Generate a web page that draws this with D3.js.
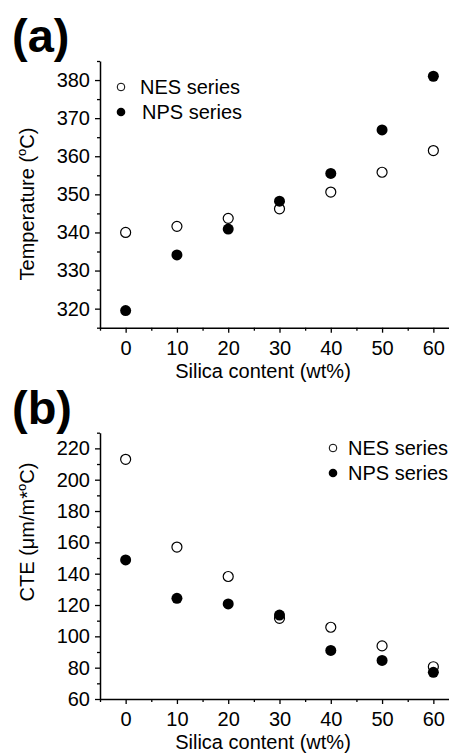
<!DOCTYPE html>
<html>
<head>
<meta charset="utf-8">
<script src="https://cdn.jsdelivr.net/npm/d3@7"></script>
<style>
  body { margin: 0; background: #fff; }
  svg { display: block; font-family: "Liberation Sans", Arial, sans-serif; }
  .domain { stroke: #000; stroke-width: 1.5; }
  .tick line { stroke: #000; stroke-width: 1.3; }
  .tick text { font-size: 20px; fill: #000; }
</style>
</head>
<body>
<svg id="chart" width="449" height="753"></svg>
<script>
  const silica = [0, 10, 20, 30, 40, 50, 60];

  // panel (a) decomposition temperature
  const tempNES = [340.0, 341.6, 343.7, 346.2, 350.6, 355.8, 361.5];
  const tempNPS = [319.5, 334.1, 340.9, 348.2, 355.5, 366.9, 381.0];

  // panel (b) CTE
  const cteNES = [213.0, 157.0, 138.2, 111.5, 105.8, 93.9, 80.6];
  const cteNPS = [148.8, 124.3, 120.7, 113.6, 91.0, 84.6, 77.0];

  const xTicks = [0, 10, 20, 30, 40, 50, 60];
  const xMinor = [-5, 5, 15, 25, 35, 45, 55];
  const tempTicks = [320, 330, 340, 350, 360, 370, 380];
  const tempMinor = [315, 325, 335, 345, 355, 365, 375, 385];
  const cteTicks = [60, 80, 100, 120, 140, 160, 180, 200, 220];
  const cteMinor = [70, 90, 110, 130, 150, 170, 190, 210, 230];

  const legendNames = ["NES series", "NPS series"];

  const svg = d3.select("#chart");
  const x = d3.scaleLinear().domain([-5, 65]).range([100, 459]);

  function panel(cfg) {
    const y = d3.scaleLinear().domain(cfg.yDomain).range([cfg.bottom, cfg.top]);
    const g = svg.append("g");

    // minor ticks first, then major axes on top
    g.append("g")
      .attr("transform", `translate(0,${cfg.bottom})`)
      .call(d3.axisBottom(x).tickValues(xMinor).tickSize(3).tickFormat(""))
      .call((s) => s.select(".domain").remove());
    g.append("g")
      .attr("transform", "translate(100,0)")
      .call(d3.axisLeft(y).tickValues(cfg.yMinor).tickSize(3).tickFormat(""))
      .call((s) => s.select(".domain").remove());

    g.append("g")
      .attr("transform", `translate(0,${cfg.bottom})`)
      .call(d3.axisBottom(x).tickValues(xTicks).tickSize(5).tickSizeOuter(0).tickPadding(4))
      .call((s) => s.selectAll(".tick text").attr("dy", "0.9em"));
    g.append("g")
      .attr("transform", "translate(100,0)")
      .call(d3.axisLeft(y).tickValues(cfg.yTicks).tickSize(5).tickSizeOuter(0).tickPadding(5));

    // data: open first, filled over it
    g.append("g")
      .selectAll("circle")
      .data(cfg.nes)
      .join("circle")
      .attr("cx", (d, i) => x(silica[i]))
      .attr("cy", (d) => y(d))
      .attr("r", 5)
      .attr("fill", "#fff")
      .attr("stroke", "#000")
      .attr("stroke-width", 1.2);
    g.append("g")
      .selectAll("circle")
      .data(cfg.nps)
      .join("circle")
      .attr("cx", (d, i) => x(silica[i]))
      .attr("cy", (d) => y(d))
      .attr("r", 5.5)
      .attr("fill", "#000");

    // panel letter
    g.append("text")
      .attr("x", 12)
      .attr("y", cfg.top - 9)
      .attr("font-size", 47)
      .attr("font-weight", "bold")
      .text(cfg.letter);

    // x title
    g.append("text")
      .attr("x", 263)
      .attr("y", cfg.bottom + 50)
      .attr("text-anchor", "middle")
      .attr("font-size", 20)
      .text("Silica content (wt%)");

    // y title
    const yt = g.append("text")
      .attr("transform", `translate(34,${cfg.yTitleMid}) rotate(-90)`)
      .attr("text-anchor", "middle")
      .attr("font-size", 20);
    yt.append("tspan").text(cfg.yTitle[0]);
    yt.append("tspan").attr("font-size", 13).attr("dy", -8).text("o");
    yt.append("tspan").attr("dy", 8).text(cfg.yTitle[1]);

    // legend
    const lg = g.append("g").attr("font-size", 20);
    legendNames.forEach((name, i) => {
      const ly = cfg.legendY + i * 25;
      lg.append("circle")
        .attr("cx", cfg.legendX)
        .attr("cy", ly)
        .attr("r", i === 0 ? 3.8 : 4.3)
        .attr("fill", i === 0 ? "#fff" : "#000")
        .attr("stroke", "#000")
        .attr("stroke-width", i === 0 ? 1 : 0);
      lg.append("text")
        .attr("x", cfg.legendX + cfg.legendGap[i])
        .attr("y", ly + 7)
        .text(name);
    });
  }

  panel({
    letter: "(a)",
    top: 61, bottom: 327.7,
    yDomain: [315, 385],
    yTicks: tempTicks, yMinor: tempMinor,
    nes: tempNES, nps: tempNPS,
    yTitle: ["Temperature (", "C)"], yTitleMid: 204,
    legendX: 121, legendY: 87, legendGap: [19, 21]
  });

  panel({
    letter: "(b)",
    top: 432.7, bottom: 699,
    yDomain: [60, 230],
    yTicks: cteTicks, yMinor: cteMinor,
    nes: cteNES, nps: cteNPS,
    yTitle: ["CTE (\u03bcm/m*", "C)"], yTitleMid: 532,
    legendX: 333, legendY: 448, legendGap: [15, 15]
  });
</script>
</body>
</html>
